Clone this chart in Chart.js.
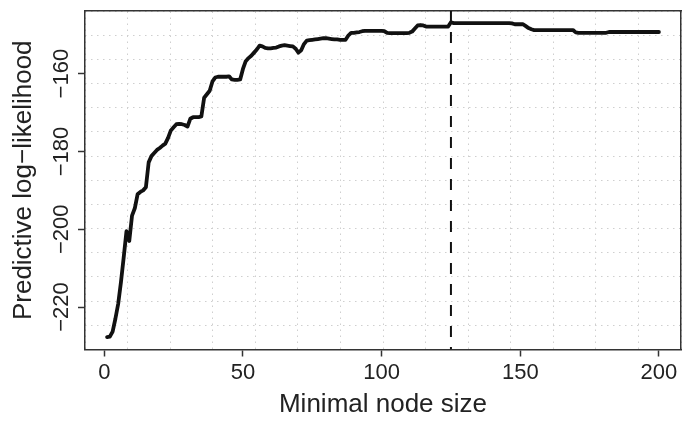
<!DOCTYPE html>
<html>
<head>
<meta charset="utf-8">
<script src="https://cdn.jsdelivr.net/npm/chart.js@4/dist/chart.umd.min.js"></script>
<style>
  html, body { margin: 0; padding: 0; background: #fff; }
  #chart { display: block; }
</style>
</head>
<body>
<canvas id="chart" width="684" height="423"></canvas>
<script>
// Predictive log-likelihood for each minimal node size, starting at 1
const firstNodeSize = 1;
const logLik = [
    -227.7, -227.6, -226.3, -223.0, -219.2, -213.6, -207.2, -200.5, -203.0, -196.5,
    -194.6, -191.0, -190.4, -190.0, -189.2, -182.8, -181.2, -180.4, -179.6, -179.1,
    -178.5, -178.0, -176.5, -174.6, -173.8, -173.0, -172.9, -173.0, -173.2, -173.6,
    -171.6, -171.2, -171.2, -171.2, -171.0, -166.2, -165.3, -164.4, -162.0, -161.0,
    -160.8, -160.8, -160.8, -160.8, -160.7, -161.5, -161.6, -161.6, -161.5, -158.8,
    -156.8, -156.0, -155.4, -154.6, -153.8, -152.8, -153.0, -153.4, -153.5, -153.5,
    -153.4, -153.3, -153.0, -152.8, -152.7, -152.8, -152.9, -153.0, -153.6, -154.6,
    -154.0, -152.4, -151.5, -151.4, -151.3, -151.2, -151.1, -151.0, -150.9, -150.9,
    -151.0, -151.1, -151.2, -151.2, -151.3, -151.3, -151.3, -150.2, -149.5, -149.5,
    -149.4, -149.3, -149.1, -149.0, -149.0, -149.0, -149.0, -149.0, -149.0, -149.0,
    -149.1, -149.5, -149.6, -149.6, -149.6, -149.6, -149.6, -149.6, -149.6, -149.5,
    -149.2, -148.4, -147.6, -147.5, -147.6, -147.9, -147.9, -147.9, -147.9, -147.9,
    -147.9, -147.9, -147.9, -147.9, -146.8, -147.0, -147.0, -147.0, -147.0, -147.0,
    -147.0, -147.0, -147.0, -147.0, -147.0, -147.0, -147.0, -147.0, -147.0, -147.0,
    -147.0, -147.0, -147.0, -147.0, -147.0, -147.0, -147.1, -147.3, -147.3, -147.3,
    -147.3, -147.8, -148.3, -148.6, -148.8, -148.8, -148.8, -148.8, -148.8, -148.8,
    -148.8, -148.8, -148.8, -148.8, -148.8, -148.8, -148.8, -148.8, -148.8, -149.4,
    -149.5, -149.5, -149.5, -149.5, -149.5, -149.5, -149.5, -149.5, -149.5, -149.5,
    -149.5, -149.3, -149.3, -149.3, -149.3, -149.3, -149.3, -149.3, -149.3, -149.3,
    -149.3, -149.3, -149.3, -149.3, -149.3, -149.3, -149.3, -149.3, -149.3, -149.3
];
const bestNodeSize = 125;

// axis setup
const xTicks = [0, 50, 100, 150, 200];
const yTicks = [-220, -200, -180, -160];
const xLimits = [-6.96, 207.96];
const yLimits = [-230.9, -143.9];
const gridCells = 14;

const FONT = "'Liberation Sans', Arial, Helvetica, sans-serif";
const INK = '#222';
const AXIS = '#333';

const minusSign = v => String(v).replace('-', '\u2212');

const curve = logLik.map((v, i) => ({ x: firstNodeSize + i, y: v }));
const bestLine = [
    { x: bestNodeSize, y: yLimits[1] },
    { x: bestNodeSize, y: yLimits[0] }
];

Chart.defaults.font.family = FONT;

const tickGrid = {
    drawOnChartArea: false,
    drawTicks: true,
    tickLength: 7,
    tickColor: AXIS,
    tickWidth: 1.5
};
const frame = { display: true, color: AXIS, width: 1.5 };

new Chart(document.getElementById('chart'), {
    type: 'line',
    data: {
        datasets: [
            {
                data: curve,
                borderColor: '#111',
                borderWidth: 3.8,
                borderJoinStyle: 'round',
                borderCapStyle: 'round',
                pointRadius: 0,
                tension: 0,
                fill: false
            },
            {
                data: bestLine,
                borderColor: '#111',
                borderWidth: 2,
                borderDash: [11, 10],
                pointRadius: 0,
                fill: false
            }
        ]
    },
    options: {
        responsive: false,
        animation: false,
        devicePixelRatio: 1,
        layout: { padding: { left: 0, top: 11, right: 3, bottom: 0 } },
        plugins: {
            legend: { display: false },
            tooltip: { enabled: false }
        },
        scales: {
            x: {
                type: 'linear',
                position: 'bottom',
                min: xLimits[0],
                max: xLimits[1],
                afterBuildTicks: s => { s.ticks = xTicks.map(v => ({ value: v })); },
                afterFit: s => { s.height = 73.5; },
                grid: tickGrid,
                border: frame,
                ticks: {
                    color: INK,
                    font: { size: 22 },
                    padding: 3,
                    maxRotation: 0,
                    autoSkip: false,
                    callback: minusSign
                },
                title: {
                    display: true,
                    text: 'Minimal node size',
                    color: INK,
                    font: { size: 26 },
                    padding: { top: 0, bottom: 3 }
                }
            },
            y: {
                type: 'linear',
                position: 'left',
                min: yLimits[0],
                max: yLimits[1],
                afterBuildTicks: s => { s.ticks = yTicks.map(v => ({ value: v })); },
                afterFit: s => { s.width = 85; },
                grid: tickGrid,
                border: frame,
                ticks: {
                    color: INK,
                    font: { size: 22 },
                    minRotation: 90,
                    maxRotation: 90,
                    crossAlign: 'center',
                    padding: -9,
                    autoSkip: false,
                    callback: minusSign
                },
                title: {
                    display: true,
                    text: 'Predictive log\u2212likelihood',
                    color: INK,
                    font: { size: 26 },
                    padding: { top: 8, bottom: 0 }
                }
            },
            // dotted 14 x 14 background grid, also closes the frame on top and right
            gx: {
                type: 'linear',
                position: 'top',
                min: 0,
                max: gridCells,
                afterFit: s => { s.height = 0; },
                ticks: { display: false, stepSize: 1 },
                grid: { color: '#cfcfcf', lineWidth: 1, drawTicks: false },
                border: { display: true, color: AXIS, width: 1.5, dash: [1.5, 4.5] }
            },
            gy: {
                type: 'linear',
                position: 'right',
                min: 0,
                max: gridCells,
                afterFit: s => { s.width = 0; },
                ticks: { display: false, stepSize: 1 },
                grid: { color: '#cfcfcf', lineWidth: 1, drawTicks: false },
                border: { display: true, color: AXIS, width: 1.5, dash: [1.5, 4.5] }
            }
        }
    }
});
</script>
</body>
</html>
